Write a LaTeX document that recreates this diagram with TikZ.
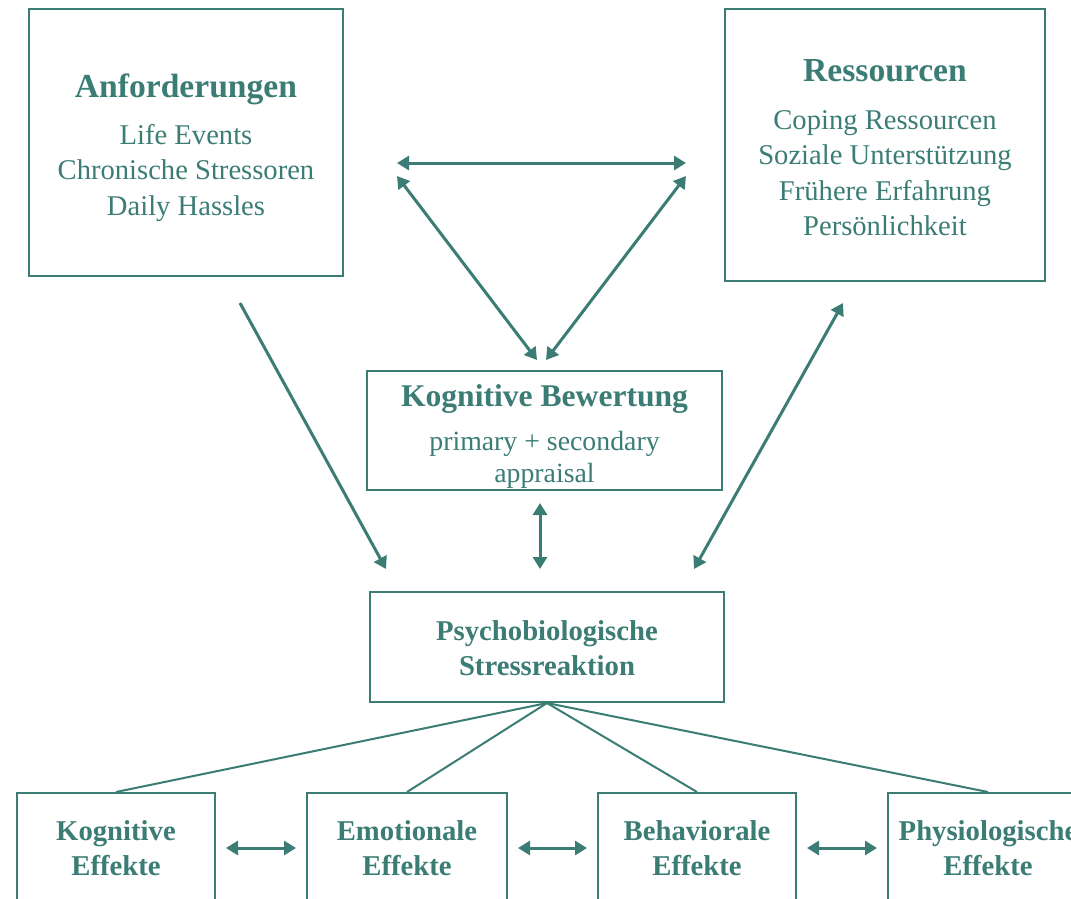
\documentclass[tikz,border=0pt]{standalone}
\usepackage{fontspec}
\setmainfont{Liberation Serif}
\usepackage{xcolor}
\usepackage{tikz}
\usetikzlibrary{arrows.meta}

\definecolor{stressteal}{RGB}{59,125,117}
\newcommand{\headfont}{\fontsize{33.6}{40}\selectfont\bfseries}
\newcommand{\bodyfont}{\fontsize{28.6}{35.5}\selectfont}
\newcommand{\midhead}{\fontsize{31.6}{37}\selectfont\bfseries}
\newcommand{\subfont}{\fontsize{27.8}{32}\selectfont}
\newcommand{\effectfont}{\fontsize{28.7}{35}\selectfont\bfseries}

\begin{document}
\begin{tikzpicture}[x=1pt, y=-1pt,
    box/.style={draw=stressteal, line width=2pt, text=stressteal, align=center, inner sep=0pt},
    link/.style={draw=stressteal, line width=3pt},
    tip/.style={-{Triangle[length=12pt, width=14pt]}},
    both/.style={{Triangle[length=12pt, width=14pt]}-{Triangle[length=12pt, width=14pt]}}]
    \clip (0,0) rectangle (1071,898);
    \fill[white] (0,0) rectangle (1071,898);

    % Upper boxes (the struts push the texts a little down)
    \node[box, font=\bodyfont, minimum width=314pt, minimum height=267pt] (anf) at (186,142.5)
        {\rule{0pt}{34pt}{\headfont Anforderungen}\\[11pt]Life Events\\Chronische Stressoren\\Daily Hassles};
    \node[box, font=\bodyfont, minimum width=320pt, minimum height=272pt] (res) at (885,145)
        {\rule{0pt}{28pt}{\headfont Ressourcen}\\[12pt]Coping Ressourcen\\Soziale Unterstützung\\Frühere Erfahrung\\Persönlichkeit};

    % Appraisal and reaction
    \node[box, font=\subfont, minimum width=355pt, minimum height=119pt] (bew) at (544.5,430.5)
        {\rule{0pt}{33.5pt}{\midhead Kognitive Bewertung}\\[12pt]primary + secondary\\appraisal};
    \node[box, font=\effectfont, minimum width=354pt, minimum height=110pt] (psy) at (547,647)
        {\rule{0pt}{23pt}Psychobiologische\\Stressreaktion};

    % Effects (cut off at the lower edge)
    \node[box, font=\effectfont, minimum width=198pt, minimum height=110pt] (kog) at (116,848) {Kognitive\\Effekte};
    \node[box, font=\effectfont, minimum width=200pt, minimum height=110pt] (emo) at (407,848) {Emotionale\\Effekte};
    \node[box, font=\effectfont, minimum width=198pt, minimum height=110pt] (beh) at (697,848) {Behaviorale\\Effekte};
    \node[box, font=\effectfont, minimum width=200pt, minimum height=110pt] (phy) at (988,848) {Physiologische\\Effekte};

    % Arrow ends
    \coordinate (triL) at (397,163);
    \coordinate (triR) at (686,163);
    \coordinate (triLd) at (397,176);
    \coordinate (triRd) at (686,176);
    \coordinate (bewTL) at (537,360);
    \coordinate (bewTR) at (546,360);
    \coordinate (anfOut) at (240,303);
    \coordinate (resOut) at (843,303);
    \coordinate (bewOut) at (540,503);
    \coordinate (psyInL) at (386,569);
    \coordinate (psyInM) at (540,569);
    \coordinate (psyInR) at (694,569);

    % Triangle between demands, resources and appraisal
    \draw[link, both] (triL) -- (triR);
    \draw[link, both] (triLd) -- (bewTL);
    \draw[link, both] (triRd) -- (bewTR);

    % Into the stress reaction
    \draw[link, tip] (anfOut) -- (psyInL);
    \draw[link, both] (resOut) -- (psyInR);
    \draw[link, both] (bewOut) -- (psyInM);

    % Fan out to the effects
    \foreach \e in {kog, emo, beh, phy}
        \draw[stressteal, line width=2pt] (psy.south) -- (\e.north);

    % Effects among each other
    \draw[link, both, shorten <=10pt, shorten >=10pt] (kog) -- (emo);
    \draw[link, both, shorten <=10pt, shorten >=10pt] (emo) -- (beh);
    \draw[link, both, shorten <=10pt, shorten >=10pt] (beh) -- (phy);
\end{tikzpicture}
\end{document}
